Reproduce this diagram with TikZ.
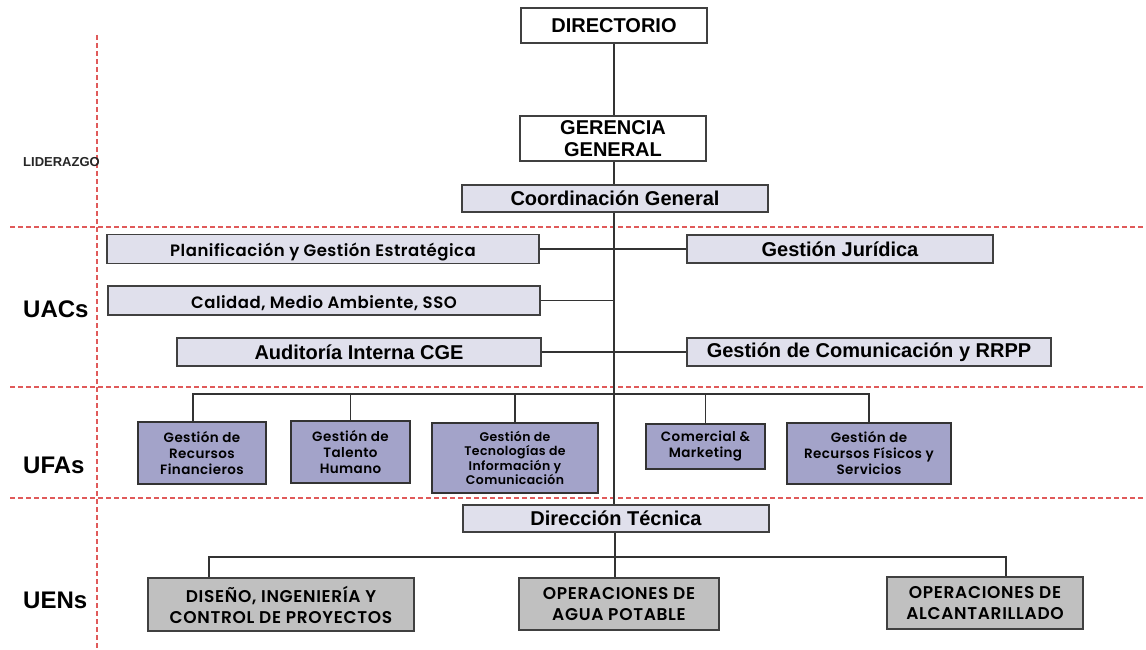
\documentclass[tikz,border=0pt]{standalone}
\usepackage{fontspec}
\setmainfont{Liberation Sans}
\newfontfamily\gothic{Poppins}[BoldFont={Poppins SemiBold}, LetterSpace=3]
\newfontfamily\gothicwide{Poppins}[BoldFont={Poppins SemiBold}, LetterSpace=4]
\definecolor{lav}{HTML}{E0E0EC}
\definecolor{lavdark}{HTML}{A3A3C9}
\definecolor{uengrey}{HTML}{C0C0C0}
\definecolor{reddash}{HTML}{E05A5A}
\definecolor{bord}{HTML}{404040}
\tikzset{
  base/.style={draw=bord, line width=1.3pt, inner sep=0pt, align=center, text=black},
  topbox/.style={base, fill=white, font=\bfseries\fontsize{20}{22}\selectfont},
  lavbox/.style={base, fill=lav, font=\bfseries\fontsize{20}{22}\selectfont},
  lavgothic/.style={base, fill=lav, text height=16pt, text depth=1pt, font=\gothic\bfseries\fontsize{16.5}{18}\selectfont},
  ufabox/.style={base, fill=lavdark, draw=black!80, font=\gothic\bfseries\fontsize{13.5}{16}\selectfont},
  uenbox/.style={base, fill=uengrey, font=\gothicwide\bfseries\fontsize{17}{21}\selectfont},
  conn/.style={line width=1.1pt, draw=black!80},
  zone/.style={draw=reddash, line width=1.1pt, dash pattern=on 5pt off 3pt},
  lvl/.style={anchor=west, inner sep=0pt, font=\bfseries\fontsize{24}{28}\selectfont}
}
\begin{document}
\begin{tikzpicture}[x=1pt,y=-1pt]
\useasboundingbox (0,0) rectangle (1146,650);
\fill[white] (0,0) rectangle (1146,650);
% zone lines
\draw[zone] (97,35) -- (97,650);
\draw[zone] (10,227) -- (1146,227);
\draw[zone] (10,387) -- (1146,387);
\draw[zone] (10,498) -- (1146,498);
% level labels
\node[anchor=west, inner sep=0pt, text=black!85, font=\bfseries\fontsize{13}{15}\selectfont] (lid) at (23,162) {LIDERAZGO};
\node[lvl] (uacs) at (23,309) {UACs};
\node[lvl] (ufas) at (23,465) {UFAs};
\node[lvl] (uens) at (23,600) {UENs};
% nodes
\node[topbox, minimum width=186pt, minimum height=35pt] (dir) at (614,25.5) {DIRECTORIO};
\node[topbox, minimum width=186pt, minimum height=45pt] (ger) at (613,138.5) {GERENCIA\\GENERAL};
\node[lavbox, minimum width=306pt, minimum height=27pt] (coord) at (615,198.5) {Coordinación General};
\node[lavgothic, minimum width=432pt, minimum height=29pt] (plan) at (323,249) {Planificación y Gestión Estratégica};
\node[lavbox, minimum width=306pt, minimum height=28pt] (jur) at (840,249) {Gestión Jurídica};
\node[lavgothic, minimum width=432pt, minimum height=29pt] (cal) at (324,300.5) {Calidad, Medio Ambiente, SSO};
\node[lavbox, minimum width=364pt, minimum height=28pt] (aud) at (359,352) {Auditoría Interna CGE};
\node[lavbox, minimum width=364pt, minimum height=28pt] (com) at (869,352) {Gestión de Comunicación y RRPP};
\node[ufabox, minimum width=128pt, minimum height=62pt] (fin) at (202,453) {Gestión de\\Recursos\\Financieros};
\node[ufabox, minimum width=119pt, minimum height=62pt] (tal) at (350.5,452) {Gestión de\\Talento\\Humano};
\node[ufabox, minimum width=166pt, minimum height=70pt, font=\gothic\bfseries\fontsize{12.5}{14.5}\selectfont] (tic) at (515,458) {Gestión de\\Tecnologías de\\Información y\\Comunicación};
\node[ufabox, minimum width=119pt, minimum height=45pt] (mkt) at (705.5,446.5) {Comercial \&\\Marketing};
\node[ufabox, minimum width=164pt, minimum height=61pt] (fis) at (869,453.5) {Gestión de\\Recursos Físicos y\\Servicios};
\node[lavbox, minimum width=306pt, minimum height=27pt] (dt) at (616,518.5) {Dirección Técnica};
\node[uenbox, minimum width=266pt, minimum height=53pt] (dis) at (281,604.5) {DISEÑO, INGENIERÍA Y\\CONTROL DE PROYECTOS};
\node[uenbox, minimum width=200pt, minimum height=52pt] (agua) at (619,604) {OPERACIONES DE\\AGUA POTABLE};
\node[uenbox, minimum width=196pt, minimum height=52pt] (alc) at (985,603) {OPERACIONES DE\\ALCANTARILLADO};
% trunk
\coordinate (ufabus) at (614,394);
\coordinate (uenbus) at (615,557);
\draw[conn] (dir.south) -- (dir.south |- ger.north);
\draw[conn] (dir.south |- ger.south) -- (dir.south |- coord.north);
\draw[conn] (dir.south |- coord.south) -- (dir.south |- dt.north);
% UACs
\draw[conn] (plan.east) -- (jur.west);
\draw[conn] (cal.east) -- (cal.east -| dir.south);
\draw[conn] (aud.east) -- (com.west);
% UFAs
\draw[conn] ([xshift=-9pt]fin.north) |- ([xshift=0pt]fis.north |- ufabus) -- (fis.north);
\draw[conn] (tal.north) -- (tal.north |- ufabus);
\draw[conn] (tic.north) -- (tic.north |- ufabus);
\draw[conn] (mkt.north) -- (mkt.north |- ufabus);
% UENs
\draw[conn] ([xshift=-72pt]dis.north) |- ([xshift=21pt]alc.north |- uenbus) -- ([xshift=21pt]alc.north);
\draw[conn] ([xshift=-1pt]dt.south) -- ([xshift=-1pt]dt.south |- agua.north);
\end{tikzpicture}
\end{document}
